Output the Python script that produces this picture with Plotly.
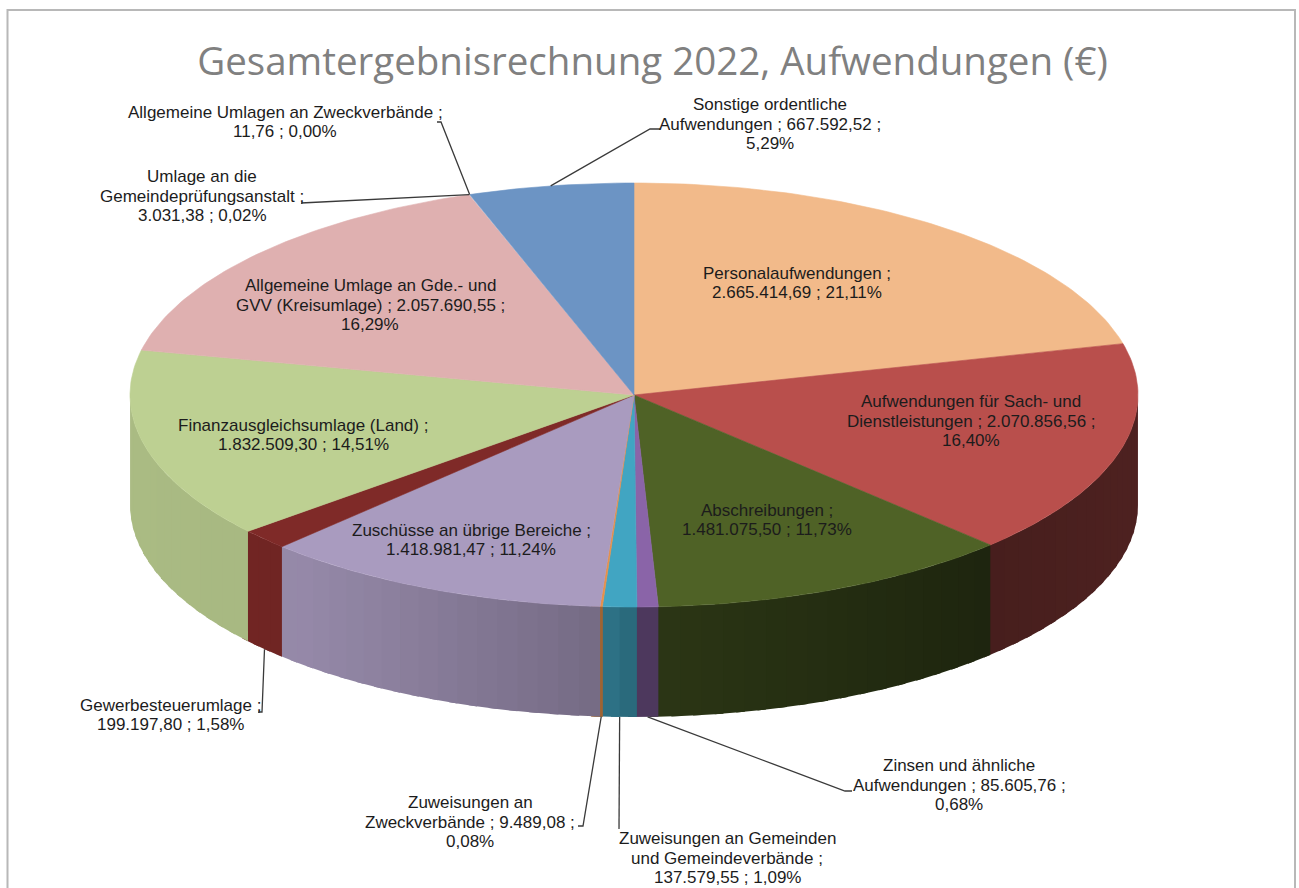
import numpy as np
import plotly.graph_objects as go

# ---- data (clockwise from 12 o'clock) ----
CATEGORIES = [
    "Personalaufwendungen", "Aufwendungen für Sach- und Dienstleistungen", "Abschreibungen",
    "Zinsen und ähnliche Aufwendungen", "Zuweisungen an Gemeinden und Gemeindeverbände",
    "Zuweisungen an Zweckverbände", "Zuschüsse an übrige Bereiche", "Gewerbesteuerumlage",
    "Finanzausgleichsumlage (Land)", "Allgemeine Umlage an Gde.- und GVV (Kreisumlage)",
    "Umlage an die Gemeindeprüfungsanstalt", "Allgemeine Umlagen an Zweckverbände",
    "Sonstige ordentliche Aufwendungen",
]
VALUES = [2665414.69, 2070856.56, 1481075.50, 85605.76, 137579.55, 9489.08, 1418981.47,
          199197.80, 1832509.30, 2057690.55, 3031.38, 11.76, 667592.52]
LABEL_TEMPLATES = [
    "Personalaufwendungen ;<br>{v} ; {p}",
    "Aufwendungen für Sach- und<br>Dienstleistungen ; {v} ;<br>{p}",
    "Abschreibungen ;<br>{v} ; {p}",
    "Zinsen und ähnliche<br>Aufwendungen ; {v} ;<br>{p}",
    "Zuweisungen an Gemeinden<br>und Gemeindeverbände ;<br>{v} ; {p}",
    "Zuweisungen an<br>Zweckverbände ; {v} ;<br>{p}",
    "Zuschüsse an übrige Bereiche ;<br>{v} ; {p}",
    "Gewerbesteuerumlage ;<br>{v} ; {p}",
    "Finanzausgleichsumlage (Land) ;<br>{v} ; {p}",
    "Allgemeine Umlage an Gde.- und<br>GVV (Kreisumlage) ; {v} ;<br>{p}",
    "Umlage an die<br>Gemeindeprüfungsanstalt ;<br>{v} ; {p}",
    "Allgemeine Umlagen an Zweckverbände ;<br>{v} ; {p}",
    "Sonstige ordentliche<br>Aufwendungen ; {v} ;<br>{p}",
]
TITLE = "Gesamtergebnisrechnung 2022, Aufwendungen (€)"

# ---- styles and layout ----
COLORS = ["#F2BA8A", "#B94F4C", "#4F6226", "#8A64A8", "#41A5C2", "#E8914A", "#A99BBF",
          "#7F2A28", "#BDD092", "#DFB0B0", "#DFB0B0", "#6C94C4", "#6C94C4"]
LABEL_POS = [(797, 283), (971, 421), (767, 520), (959, 785), (727, 858), (470, 822), (471, 540),
             (170, 715), (303, 435), (370, 305), (202, 196), (285, 122), (770, 124)]
# leader: (elbow x, elbow y, end x) or None; starts on the rim at the slice's middle angle
LEADERS = [None, None, None, (845, 791, 852), (619, 829, 619), (583, 826, 578), None,
           (262, 712, 258), None, None, (307, 203, 301), (441, 122, 437), (650, 129, 660)]
LINE_GAP = 19.6
CX, CY, RX, RY, DEPTH = 634, 395, 504, 212, 110
W, H = 1299, 888

vals = np.array(VALUES)
total = vals.sum()
edges = np.concatenate([[0], np.cumsum(vals)]) / total * 2 * np.pi


def de(n, d=2):
    return f"{n:,.{d}f}".replace(",", "§").replace(".", ",").replace("§", ".")


def px(t, dy=0.0):
    return CX + RX * np.sin(t), CY - RY * np.cos(t) + dy


def shade(hex_color, f):
    r, g, b = (int(hex_color[i:i + 2], 16) for i in (1, 3, 5))
    return f"rgb({r * f:.0f},{g * f:.0f},{b * f:.0f})"


def wall_factor(t):
    u = np.sin(t)
    return float(np.interp(u, [-1, -0.65, -0.03, 0.03, 0.7, 1], [.90, .88, .68, .55, .38, .42]))


fig = go.Figure()


def add_poly(xs, ys, color, lw=0.0):
    fig.add_trace(go.Scatter(x=xs, y=ys, mode="lines", fill="toself", fillcolor=color,
                             line=dict(color=color, width=lw), hoverinfo="skip", showlegend=False))


# side wall: only the part facing the viewer, drawn as overlapping strips for the shading
STEP, OVERLAP = np.radians(2.5), np.radians(1.0)
for i, c in enumerate(COLORS):
    a, b = max(edges[i], np.pi / 2), min(edges[i + 1], 3 * np.pi / 2)
    if b <= a:
        continue
    n = max(1, int(np.ceil((b - a) / STEP)))
    cuts = np.linspace(a, b, n + 1)
    thin = (b - a) < np.radians(1)
    # each strip runs slightly under the next one, which is painted after it
    for t0, t1 in zip(cuts[:-1], cuts[1:]):
        ts = np.linspace(t0, min(t1 + OVERLAP, 3 * np.pi / 2), 6)
        x, y = px(ts)
        xb, yb = px(ts[::-1], DEPTH)
        add_poly(np.r_[x, xb, x[0]], np.r_[y, yb, y[0]], shade(c, wall_factor((t0 + t1) / 2)),
                 lw=0.8 if thin else 0.0)

# top surface
for i, c in enumerate(COLORS):
    span = edges[i + 1] - edges[i]
    if span < np.radians(0.2):
        continue
    ts = np.linspace(edges[i], edges[i + 1], max(2, int(span * 60)))
    x, y = px(ts)
    add_poly(np.r_[CX, x, CX], np.r_[CY, y, CY], c, lw=0.6)

# leader lines
mids = (edges[:-1] + edges[1:]) / 2
for i, ld in enumerate(LEADERS):
    if ld is None:
        continue
    front = np.cos(mids[i]) < 0
    sx, sy = px(mids[i], DEPTH if front else 0)
    fig.add_trace(go.Scatter(x=[sx, ld[0], ld[2]], y=[sy, ld[1], ld[1]], mode="lines",
                             line=dict(color="#3A3A3A", width=1.3), hoverinfo="skip", showlegend=False))

# labels: one annotation per text line so the tight line spacing can be kept
for i, tpl in enumerate(LABEL_TEMPLATES):
    text = tpl.format(v=de(VALUES[i]), p=de(VALUES[i] / total * 100) + "%")
    rows = text.split("<br>")
    for k, row in enumerate(rows):
        fig.add_annotation(x=LABEL_POS[i][0], y=LABEL_POS[i][1] + (k - (len(rows) - 1) / 2) * LINE_GAP,
                           text=row, showarrow=False, xanchor="center", yanchor="middle", align="center",
                           font=dict(family="Liberation Sans", size=17, color="#1C1C1C"))

fig.add_shape(type="rect", x0=7.5, x1=1295, y0=10, y1=905, line=dict(color="#B8B8B8", width=2),
              fillcolor="rgba(0,0,0,0)", layer="above")

fig.update_layout(
    width=W, height=H, margin=dict(l=0, r=0, t=0, b=0), showlegend=False,
    paper_bgcolor="white", plot_bgcolor="white",
    title=dict(text=TITLE, x=652.5 / W, xanchor="center", y=1 - 62 / H, yanchor="middle",
               font=dict(family="Open Sans", size=38.5, color="#808080")),
    xaxis=dict(range=[0, W], visible=False, fixedrange=True),
    yaxis=dict(range=[H, 0], visible=False, fixedrange=True),
)
fig.write_html("out.html", config={"displayModeBar": False},
               post_script="document.body.style.margin='0';document.body.style.overflow='hidden';")
